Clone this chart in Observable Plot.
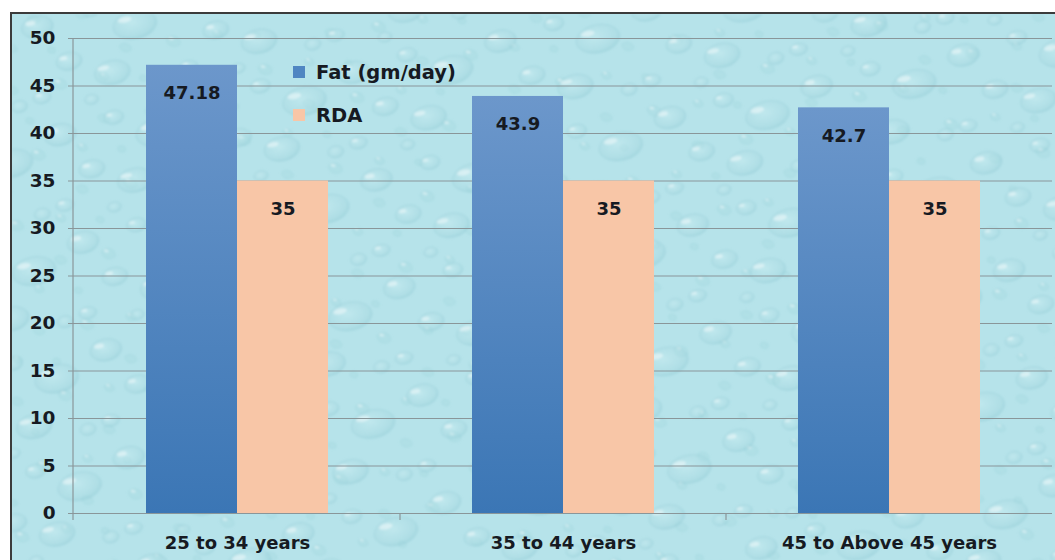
<!DOCTYPE html>
<html>
<head>
<meta charset="utf-8">
<script src="https://cdn.jsdelivr.net/npm/d3@7"></script>
<script src="https://cdn.jsdelivr.net/npm/@observablehq/plot@0.6"></script>
<style>
  body { margin: 0; background: #ffffff; }
  #wrap { position: relative; width: 1055px; height: 560px; overflow: hidden; font-family: "DejaVu Sans", sans-serif; }
  #bg { position: absolute; left: 10px; top: 12px; width: 1060px; height: 560px; box-sizing: border-box; border: 2px solid #3b3b3b; background: #b4e2e9; overflow: hidden; }
  #bg svg { position: absolute; left: 0; top: 0; }
  #chart { position: absolute; left: 0; top: 0; }
  .legend { position: absolute; left: 293px; top: 60px; color: #161a22; font-weight: bold; font-size: 19.5px; }
  .legend .item { display: flex; align-items: center; height: 24px; margin-bottom: 19px; }
  .legend .sw { width: 12px; height: 12px; margin-right: 11px; }
</style>
</head>
<body>
<div id="wrap">
  <div id="bg">
    <svg width="1060" height="560">
      <defs>
        <radialGradient id="dropFill" cx="0.45" cy="0.4" r="0.65">
          <stop offset="0" stop-color="#d2f1f4" stop-opacity="0.35"/>
          <stop offset="0.7" stop-color="#a4d6de" stop-opacity="0.3"/>
          <stop offset="1" stop-color="#86c4cf" stop-opacity="0.45"/>
        </radialGradient>
        <filter id="soft"><feGaussianBlur stdDeviation="0.8"/></filter>
        <pattern id="dropsA" width="150" height="110" patternUnits="userSpaceOnUse" patternTransform="rotate(-12)">
          <g fill="url(#dropFill)" stroke="#92cbd5" stroke-opacity="0.45" stroke-width="1">
            <ellipse cx="22" cy="18" rx="16" ry="11"/>
            <ellipse cx="78" cy="12" rx="10" ry="7"/>
            <ellipse cx="118" cy="36" rx="22" ry="14"/>
            <ellipse cx="46" cy="58" rx="13" ry="9"/>
            <ellipse cx="12" cy="88" rx="9" ry="6"/>
            <ellipse cx="86" cy="78" rx="18" ry="12"/>
            <ellipse cx="138" cy="92" rx="8" ry="6"/>
            <ellipse cx="60" cy="100" rx="7" ry="5"/>
          </g>
          <g fill="#ffffff" fill-opacity="0.45">
            <ellipse cx="16" cy="13" rx="5" ry="2.5"/>
            <ellipse cx="74" cy="9" rx="3" ry="1.6"/>
            <ellipse cx="109" cy="29" rx="7" ry="3"/>
            <ellipse cx="41" cy="54" rx="4" ry="2"/>
            <ellipse cx="78" cy="72" rx="6" ry="2.6"/>
            <ellipse cx="9" cy="85" rx="3" ry="1.5"/>
          </g>
        </pattern>
        <pattern id="dropsB" width="96" height="74" patternUnits="userSpaceOnUse" patternTransform="translate(31,23) rotate(17)">
          <g fill="#a6d8e0" fill-opacity="0.35" stroke="#95cfd8" stroke-opacity="0.4">
            <ellipse cx="30" cy="40" rx="7" ry="5"/>
            <ellipse cx="70" cy="20" rx="5" ry="3.5"/>
            <ellipse cx="82" cy="60" rx="6" ry="4"/>
            <ellipse cx="12" cy="10" rx="4" ry="3"/>
          </g>
          <g fill="#ffffff" fill-opacity="0.45">
            <ellipse cx="27" cy="38" rx="2.5" ry="1.2"/>
            <ellipse cx="68" cy="18" rx="2" ry="1"/>
          </g>
        </pattern>
      </defs>
      <rect width="1060" height="560" fill="#b6e3ea"/>
      <g filter="url(#soft)">
        <rect width="1060" height="560" fill="url(#dropsB)"/>
        <rect width="1060" height="560" fill="url(#dropsA)"/>
      </g>
    </svg>
  </div>
  <div id="chart"></div>
  <div class="legend" id="legend"></div>
</div>
<script>
// Age groups and the two series drawn for each
const categories = ["25 to 34 years", "35 to 44 years", "45 to Above 45 years"];
const seriesNames = ["Fat (gm/day)", "RDA"];
const fatValues = [47.18, 43.9, 42.7];
const rdaValues = [35, 35, 35];
const yTicks = [0, 5, 10, 15, 20, 25, 30, 35, 40, 45, 50];
const seriesColors = ["#4f86c2", "#f8c6a7"];

const rows = categories.flatMap((group, i) => [
  {group, series: seriesNames[0], value: fatValues[i]},
  {group, series: seriesNames[1], value: rdaValues[i]}
]);

const ink = "#161a22";
const gridColor = "#8a9699";
const font = "DejaVu Sans";

const chart = Plot.plot({
  width: 1055,
  height: 560,
  marginLeft: 73,
  marginRight: 2,
  marginTop: 38,
  marginBottom: 47,
  style: {background: "transparent", fontFamily: font, fontWeight: "bold", color: ink, overflow: "visible"},
  fx: {domain: categories, padding: 0, label: null},
  x: {domain: seriesNames, paddingInner: 0, paddingOuter: 0.775, axis: null},
  y: {domain: [0, 50], label: null},
  marks: [
    Plot.gridY(yTicks, {stroke: gridColor, strokeOpacity: 1, strokeWidth: 1.2}),
    Plot.axisY(yTicks, {tickSize: 6, tickPadding: 13, fontSize: 18.5, fontWeight: "bold", stroke: gridColor, fill: ink, label: null}),
    Plot.axisFx({anchor: "bottom", tickSize: 0, tickPadding: 23, fontSize: 18, fontWeight: "bold", fill: ink, label: null}),
    Plot.barY(rows.filter(d => d.series === seriesNames[0]), {fx: "group", x: "series", y: "value", fill: "url(#fatGrad)"}),
    Plot.barY(rows.filter(d => d.series === seriesNames[1]), {fx: "group", x: "series", y: "value", fill: seriesColors[1]}),
    Plot.ruleY([0], {stroke: gridColor, strokeWidth: 1.2}),
    Plot.text(rows, {fx: "group", x: "series", y: "value", text: d => String(d.value), dy: 28, fontSize: 18, fontWeight: "bold", fill: ink})
  ]
});

// Vertical gradient for the Fat bars
const svg = d3.select(chart);
const grad = svg.insert("defs", ":first-child").append("linearGradient")
  .attr("id", "fatGrad").attr("x1", 0).attr("y1", 0).attr("x2", 0).attr("y2", 1);
grad.append("stop").attr("offset", "0%").attr("stop-color", "#6c97cb");
grad.append("stop").attr("offset", "100%").attr("stop-color", "#3b76b5");

// Y axis line and category separator ticks below the baseline
const y = chart.scale("y");
const fx = chart.scale("fx");
const y0 = y.apply(0);
svg.append("line")
  .attr("x1", 73).attr("x2", 73)
  .attr("y1", y.apply(50)).attr("y2", y0 + 7)
  .attr("stroke", gridColor).attr("stroke-width", 1.2);
categories.slice(1).forEach(c => {
  const xb = fx.apply(c);
  svg.append("line")
    .attr("x1", xb).attr("x2", xb)
    .attr("y1", y0).attr("y2", y0 + 7)
    .attr("stroke", gridColor).attr("stroke-width", 1.2);
});

document.getElementById("chart").appendChild(chart);

// Legend
const legend = document.getElementById("legend");
seriesNames.forEach((name, i) => {
  const item = document.createElement("div");
  item.className = "item";
  const sw = document.createElement("span");
  sw.className = "sw";
  sw.style.background = seriesColors[i];
  const label = document.createElement("span");
  label.textContent = name;
  item.appendChild(sw);
  item.appendChild(label);
  legend.appendChild(item);
});
</script>
</body>
</html>
